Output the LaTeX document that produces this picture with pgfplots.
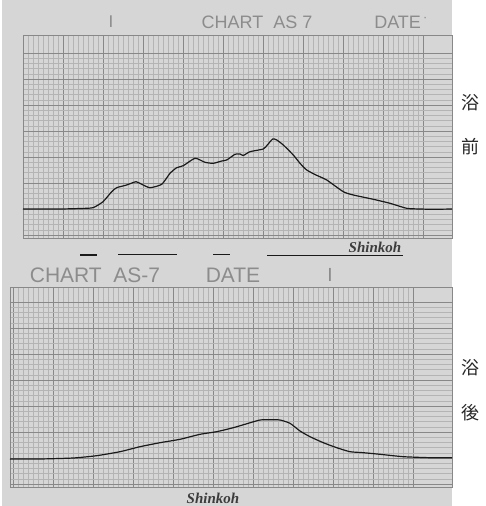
\documentclass[border=0pt]{standalone}
\usepackage{pgfplots}
\pgfplotsset{compat=1.18}
\usepackage{fontspec}
\setmainfont{Liberation Sans}
\newfontfamily\serifit{Liberation Serif}
\newfontfamily\jp{Noto Sans CJK JP}
\definecolor{paper}{HTML}{D6D6D6}
\definecolor{minorg}{HTML}{B4B4B4}
\definecolor{majorg}{HTML}{888888}
\definecolor{inkgray}{HTML}{8C8C8C}
\definecolor{pen}{HTML}{1A1A1A}
\pgfplotsset{
  chartpaper/.style={
    scale only axis,
    axis background/.style={fill=paper},
    axis line style={majorg, line width=0.6pt},
    grid=both,
    major grid style={majorg, line width=0.5pt},
    minor grid style={minorg, line width=0.3pt},
    minor x tick num=7,
    minor y tick num=4,
    major tick length=0pt, minor tick length=0pt,
    xticklabels={}, yticklabels={},
    clip=true,
  }
}
\begin{document}
\begin{tikzpicture}[x=1pt,y=1pt]
\path[use as bounding box] (0,0) rectangle (486,506);
\fill[paper] (0,0) rectangle (452,506);
\fill[white] (0,0) rectangle (2,506);
% ---------- top panel (before bath)
\begin{axis}[chartpaper,
  at={(23pt,268pt)}, anchor=south west,
  width=429pt, height=203pt,
  xmin=23, xmax=452, ymin=-29, ymax=174,
  ytick={-26,0,26,52,78,104,130,156},
  xtick={23,63,103,143,183,223,263,303,343,383,423},
]
\addplot[pen, line width=1.2pt, smooth, tension=0.35] coordinates {
(23,0) (60,0) (80,0.5) (93,1.3) (103,7.3) (111.7,17.3) (116.7,21.3) (126.7,24)
(136,27.3) (141.7,24.7) (150,21.3) (161.7,24.7) (170,35.7) (176.7,41.3)
(183.3,43.3) (195,50.7) (205,46.7) (213.3,45.7) (221.7,48) (226.7,49)
(235,54.7) (240,55) (243.3,53.5) (250,57.3) (263.3,60) (267.3,64) (272.7,70)
(276.7,69) (283.3,64) (293.3,54) (300,45.7) (306.7,39) (316,34) (326.7,29)
(343.3,17.3) (353.3,14) (373.3,9.7) (390,5.7) (406.7,0.7) (420,0) (433,-0.3) (452,0)
};
\end{axis}
% ---------- bottom panel (after bath)
\begin{axis}[chartpaper,
  at={(10pt,19pt)}, anchor=south west,
  width=442pt, height=200pt,
  xmin=10, xmax=452, ymin=-29, ymax=171,
  ytick={-26,0,26,52,78,104,130,156},
  xtick={13,53,93,133,173,213,253,293,333,373,413},
]
\addplot[pen, line width=1.2pt, smooth, tension=0.35] coordinates {
(10,-1) (40,-1) (73.3,0) (96.7,2.3) (120,6.3) (140,11.3) (160,15.3) (180,18.7)
(200,23.7) (216.7,26.3) (233.3,30.3) (248.3,34.7) (260,38) (270,38.3) (280,38)
(290,34.7) (300,27) (310,21.3) (323.3,15.3) (336.7,10.3) (350,6.3) (363.3,5.3)
(380,3.7) (403.3,1.3) (430,0.3) (452,0.3)
};
\end{axis}
% ---------- header / footer texts
\node[inkgray, font=\fontsize{17}{17}\selectfont] at (111,484) {I};
\node[inkgray, font=\fontsize{18}{18}\selectfont] at (257,484) {CHART\ \ AS\ 7};
\node[inkgray, font=\fontsize{18}{18}\selectfont] at (401,484) {DATE\textsuperscript{\,\textperiodcentered}};
\node[inkgray, font=\fontsize{21}{21}\selectfont] at (95,231) {CHART\ \ AS-7};
\node[inkgray, font=\fontsize{21}{21}\selectfont] at (233,231) {DATE};
\node[inkgray, font=\fontsize{19}{19}\selectfont] at (330,231) {I};
\node[pen!85, font=\serifit\bfseries\itshape\fontsize{15}{15}\selectfont] at (375,259) {Shinkoh};
\node[pen!85, font=\serifit\bfseries\itshape\fontsize{15}{15}\selectfont] at (213,8) {Shinkoh};
% pen marks between panels
\draw[pen, line width=1.2pt] (80,251) -- (97,251);
\draw[pen, line width=1.0pt] (118,251) -- (177,251);
\draw[pen, line width=1.0pt] (213,251) -- (230,251);
\draw[pen, line width=1.8pt] (267,250.5) -- (403,250.5);
% Japanese side labels
\node[black!85, font=\jp\fontsize{18}{18}\selectfont] at (470,403) {浴};
\node[black!85, font=\jp\fontsize{18}{18}\selectfont] at (470,359) {前};
\node[black!85, font=\jp\fontsize{18}{18}\selectfont] at (470,138) {浴};
\node[black!85, font=\jp\fontsize{18}{18}\selectfont] at (470,93) {後};
\end{tikzpicture}
\end{document}
